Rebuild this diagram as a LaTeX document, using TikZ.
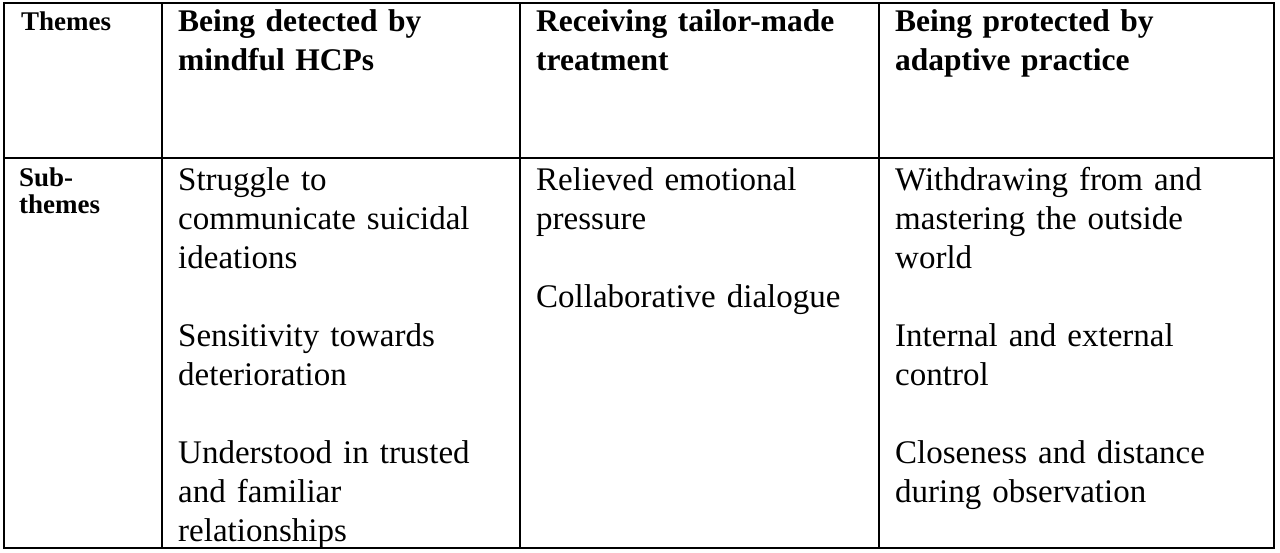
\documentclass[tikz,border=0pt]{standalone}
\usepackage{fontspec}
\setmainfont{Liberation Serif}
\tikzset{x=1pt, y=-1pt,
  cell/.style = {anchor=north west, inner sep=0pt, align=left,
                 font=\fontsize{33}{39}\selectfont},
  head/.style = {cell, font=\fontsize{31.5}{39}\selectfont\bfseries},
  side/.style = {cell, font=\fontsize{27}{27}\selectfont\bfseries}}

\begin{document}
\begin{tikzpicture}
  \useasboundingbox (0,0) rectangle (1280,552);
  % grid
  \draw [line width=1.2pt] (4,3) rectangle (1274,548);
  \draw [line width=1.2pt] (4,158) -- (1274,158);
  \foreach \x in {162, 520, 879}
    \draw [line width=1.2pt] (\x,3) -- (\x,548);

  \node [side] (th) at (21,12) {Themes};
  \node [head, text width=340pt] (h1) at (178,9) {Being detected by\\mindful HCPs};
  \node [head, text width=340pt] (h2) at (536,9) {Receiving tailor-made\\treatment};
  \node [head, text width=380pt] (h3) at (895,9) {Being protected by\\adaptive practice};

  \node [side] (sub) at (19,168) {Sub-\\themes};
  \node [cell, text width=340pt] (b1) at (178,167)
    {Struggle to\\communicate suicidal\\ideations\\[39pt]Sensitivity towards\\deterioration\\[39pt]Understood in trusted\\and familiar\\relationships};
  \node [cell, text width=340pt] (b2) at (536,167)
    {Relieved emotional\\pressure\\[39pt]Collaborative dialogue};
  \node [cell, text width=380pt] (b3) at (895,167)
    {Withdrawing from and\\mastering the outside\\world\\[39pt]Internal and external\\control\\[39pt]Closeness and distance\\during observation};
\end{tikzpicture}
\end{document}
